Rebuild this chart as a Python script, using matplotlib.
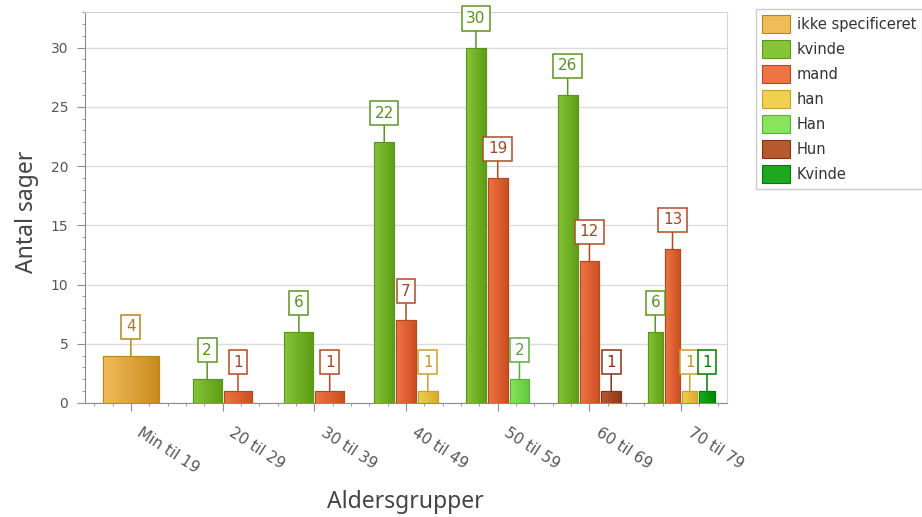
import numpy as np
import matplotlib
matplotlib.use('Agg')
import matplotlib.pyplot as plt
from matplotlib.colors import to_rgba
from matplotlib.patches import Patch
from matplotlib.ticker import MultipleLocator
import matplotlib.transforms as mtransforms

# ---------------------------------------------------------------
# Data
# ---------------------------------------------------------------
groups = ['Min til 19', '20 til 29', '30 til 39', '40 til 49',
          '50 til 59', '60 til 69', '70 til 79']
series = ['ikke specificeret', 'kvinde', 'mand', 'han', 'Han', 'Hun', 'Kvinde']

nan = np.nan
ikke_specificeret = [4, nan, nan, nan, nan, nan, nan]
kvinde = [nan, 2, 6, 22, 30, 26, 6]
mand = [nan, 1, 1, 7, 19, 12, 13]
han = [nan, nan, nan, 1, nan, nan, 1]
han_stort = [nan, nan, nan, nan, 2, nan, nan]
hun = [nan, nan, nan, nan, nan, 1, nan]
kvinde_stort = [nan, nan, nan, nan, nan, nan, 1]

values = [ikke_specificeret, kvinde, mand, han, han_stort, hun, kvinde_stort]

# left colour, right colour, edge, label text
palette = [
    ('#F0BC58', '#C98A20', '#B7841F', '#A87A28'),
    ('#86C438', '#5E9E16', '#5C9420', '#5A8F1E'),
    ('#EE7445', '#CC4E20', '#B04A24', '#9A4A2C'),
    ('#F0D050', '#D8AC28', '#C8A030', '#B89830'),
    ('#88E458', '#60C83C', '#58B040', '#5AA040'),
    ('#B85A30', '#8E3A1A', '#7E3418', '#7E3418'),
    ('#1EA81E', '#008A00', '#007A00', '#0A7A0A'),
]

W, H = 922, 517
fig = plt.figure(figsize=(W / 100, H / 100), dpi=100)
ax = fig.add_axes([85 / W, 1 - 403 / H, (727 - 85) / W, (403 - 12) / H])


def gradient_bar(ax, x, w, h, c_left, c_right, edge):
    bar = ax.bar(x, h, width=w, align='edge', facecolor=c_right,
                 edgecolor=edge, linewidth=0.8, zorder=3)[0]
    grad = np.linspace(0, 1, 64)[None, :, None]
    img = (1 - grad) * np.array(to_rgba(c_left)) + grad * np.array(to_rgba(c_right))
    im = ax.imshow(img, extent=(x, x + w, 0, h), aspect='auto',
                   interpolation='bicubic', zorder=3.5)
    im.set_clip_path(bar)
    # outline on top of the gradient
    ax.bar(x, h, width=w, align='edge', facecolor='none',
           edgecolor=edge, linewidth=0.8, zorder=4)
    return bar


gap = 0.022
for gi in range(len(groups)):
    present = [si for si in range(len(series)) if not np.isnan(values[si][gi])]
    n = len(present)
    total = 0.61 + 0.04 * (n - 1)
    bw = (total - (n - 1) * gap) / n
    x = gi - total / 2
    for si in present:
        v = values[si][gi]
        cl, cr, ce, ct = palette[si]
        gradient_bar(ax, x, bw, v, cl, cr, ce)
        ax.annotate(f'{int(v)}', xy=(x + bw / 2, v), xytext=(0, 29),
                    textcoords='offset pixels', ha='center', va='center',
                    fontsize=11, color=ct, zorder=6,
                    bbox=dict(boxstyle='square,pad=0.3', fc='white', ec=ce, lw=1.1),
                    arrowprops=dict(arrowstyle='-', color=ce, lw=1.1,
                                    shrinkA=0, shrinkB=0))
        x += bw + gap

ax.set_xlim(-0.5, len(groups) - 0.5)
ax.set_ylim(0, 33)

# axes styling
ax.set_facecolor('white')
ax.grid(axis='y', color='#DCDCDC', linewidth=1, zorder=0)
ax.set_axisbelow(True)
for side in ('left', 'bottom'):
    ax.spines[side].set_color('#8C8C8C')
for side in ('top', 'right'):
    ax.spines[side].set_color('#D4D4D4')

ax.yaxis.set_major_locator(MultipleLocator(5))
ax.yaxis.set_minor_locator(MultipleLocator(1))
ax.set_xticks(range(len(groups)))
ax.xaxis.set_minor_locator(MultipleLocator(0.2))
ax.tick_params(axis='both', which='major', color='#8C8C8C', labelcolor='#555555',
               labelsize=10)
ax.tick_params(axis='y', which='major', length=6, pad=6)
ax.tick_params(axis='y', which='minor', length=2.5, color='#8C8C8C')
ax.tick_params(axis='x', which='major', length=5.5, pad=10)
ax.tick_params(axis='x', which='minor', length=2.5, color='#8C8C8C')

ax.set_xticklabels(groups, rotation=-33, ha='left', va='top',
                   rotation_mode='anchor', fontsize=11)
offset = mtransforms.ScaledTranslation(12 / 100, 0, fig.dpi_scale_trans)
for lbl in ax.get_xticklabels():
    lbl.set_transform(lbl.get_transform() + offset)

fig.text(405 / W, 1 - 508 / H, 'Aldersgrupper', fontsize=16.5, color='#444444',
         family='Noto Sans', ha='center', va='baseline')
ax.set_ylabel('Antal sager', fontsize=16.5, color='#444444', family='Noto Sans')
ax.yaxis.set_label_coords(-46 / (727 - 85), 0.488)

# legend
handles = [Patch(facecolor=palette[i][0], edgecolor=palette[i][2], linewidth=0.8)
           for i in range(len(series))]
leg = fig.legend(handles, series, loc='upper left',
                 bbox_to_anchor=(756 / W, 1 - 9 / H), frameon=True,
                 fancybox=False, fontsize=10.5, handlelength=1.9,
                 handleheight=1.5, labelspacing=0.5, handletextpad=0.5,
                 borderpad=0.4, borderaxespad=0)
leg.get_frame().set_edgecolor('#BEBEBE')
leg.get_frame().set_linewidth(1)
for t in leg.get_texts():
    t.set_color('#333333')

fig.savefig('out.png', dpi=100)
